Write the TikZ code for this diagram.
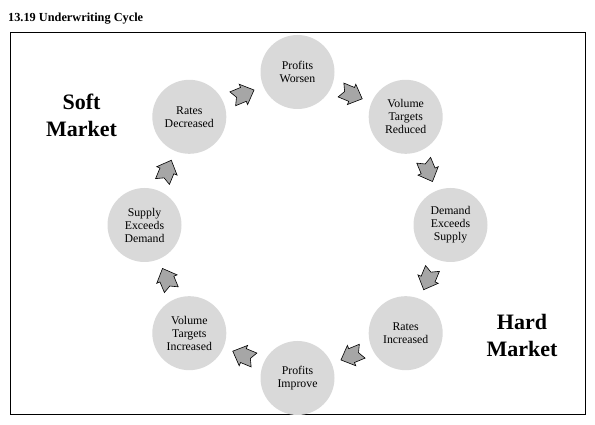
\documentclass[tikz,border=0pt]{standalone}
\usepackage{fontspec}
\setmainfont{Liberation Serif}
\usepackage{tikz}
\usetikzlibrary{shapes,arrows,positioning,calc}

\definecolor{circgray}{HTML}{D9D9D9}
\definecolor{arrowgray}{HTML}{A6A6A6}

\tikzset{
    stage/.style={circle, fill=circgray, minimum size=74pt, inner sep=0pt, align=center,
        font=\fontsize{11.8}{13}\selectfont},
    market/.style={align=center, font=\fontsize{22}{27}\selectfont\bfseries},
    cyclearrow/.pic={
        \draw[fill=arrowgray, line width=0.6pt, line join=miter]
            (-11.5,7.5) -- (0,7.5) -- (0,11) -- (11.5,0) -- (0,-11) -- (0,-7.5) -- (-11.5,-7.5) -- (-7.5,0) -- cycle;
    }
}

\begin{document}
\begin{tikzpicture}[x=1pt, y=1pt]
    \useasboundingbox (0,0) rectangle (595,425);

    % Title
    \node[anchor=base west, inner sep=0pt, font=\fontsize{12.3}{14}\selectfont\bfseries] (title) at (8,403) {13.19 Underwriting Cycle};

    % Frame
    \draw[line width=1pt] (10,10) rectangle (585,392);

    % Cycle stages
    \coordinate (o) at (297.5,200);
    \node[stage] (pw) at ($(o)+(90:153)$) {Profits\\Worsen};
    \node[stage] (vr) at ($(o)+(45:153)$) {Volume\\Targets\\Reduced};
    \node[stage] (des) at ($(o)+(0:153)$) {Demand\\Exceeds\\Supply};
    \node[stage] (ri) at ($(o)+(-45:153)$) {Rates\\Increased};
    \node[stage] (pi) at ($(o)+(-90:153)$) {Profits\\Improve};
    \node[stage] (vi) at ($(o)+(-135:153)$) {Volume\\Targets\\Increased};
    \node[stage] (sed) at ($(o)+(180:153)$) {Supply\\Exceeds\\Demand};
    \node[stage] (rd) at ($(o)+(135:153)$) {Rates\\Decreased};

    % Arrows between stages
    \pic[rotate=-22.5] at ($(pw)!0.5!(vr)$) {cyclearrow};
    \pic[rotate=-67.5] at ($(vr)!0.5!(des)$) {cyclearrow};
    \pic[rotate=-112.5] at ($(des)!0.5!(ri)$) {cyclearrow};
    \pic[rotate=-157.5] at ($(ri)!0.5!(pi)$) {cyclearrow};
    \pic[rotate=157.5] at ($(pi)!0.5!(vi)$) {cyclearrow};
    \pic[rotate=112.5] at ($(vi)!0.5!(sed)$) {cyclearrow};
    \pic[rotate=67.5] at ($(sed)!0.5!(rd)$) {cyclearrow};
    \pic[rotate=22.5] at ($(rd)!0.5!(pw)$) {cyclearrow};

    % Market labels
    \node[market] (soft) at (81.5,310) {Soft\\Market};
    \node[market] (hard) at (522,90) {Hard\\Market};
\end{tikzpicture}
\end{document}
